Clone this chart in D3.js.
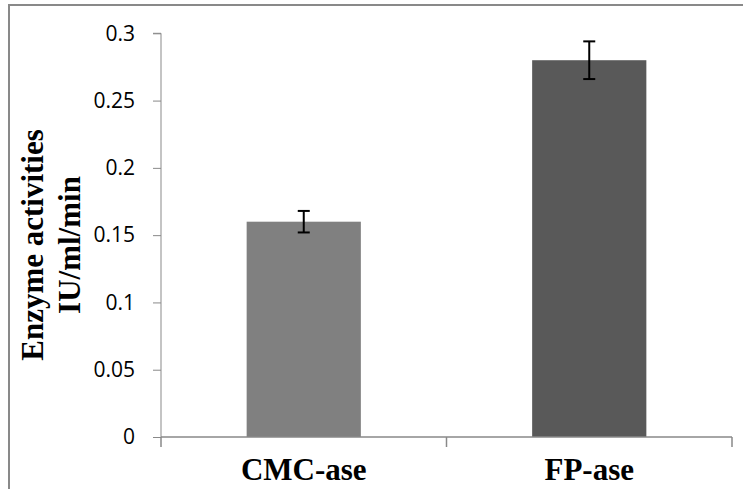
<!DOCTYPE html>
<html>
<head>
<meta charset="utf-8">
<script src="https://cdn.jsdelivr.net/npm/d3@7"></script>
<style>
html,body{margin:0;padding:0;background:#fff;}
svg{display:block;}
</style>
</head>
<body>
<svg id="chart" width="743" height="489"></svg>
<script>
const categories = ["CMC-ase", "FP-ase"];
const values = [0.16, 0.28];
const errors = [0.008, 0.014];
const barColors = ["#808080", "#595959"];
const yTicks = [0, 0.05, 0.1, 0.15, 0.2, 0.25, 0.3];
const yTickLabels = ["0", "0.05", "0.1", "0.15", "0.2", "0.25", "0.3"];
const yLabelLines = ["Enzyme activities", "IU/ml/min"];

const svg = d3.select("#chart");
const axisColor = "#898989";

// outer border
svg.append("path")
  .attr("d", "M9,489V5H743")
  .attr("fill", "none")
  .attr("stroke", axisColor)
  .attr("stroke-width", 2);

const x = d3.scaleBand().domain(categories).range([161, 732]).paddingInner(0.6).paddingOuter(0.3);
const y = d3.scaleLinear().domain([0, 0.3]).range([437, 33.3]);

// Y axis
const yAxis = d3.axisLeft(y).tickValues(yTicks)
  .tickFormat((d, i) => yTickLabels[i]).tickSize(8).tickPadding(18);
const gy = svg.append("g").attr("transform", "translate(161,0)").call(yAxis);
gy.select(".domain").attr("stroke", axisColor).attr("d", `M-8,${y(0.3)}H0V${y(0)}`);
gy.selectAll(".tick line").attr("stroke", axisColor);
gy.selectAll(".tick text").attr("fill", "#000")
  .style("font-family", "'Open Sans', sans-serif").style("font-size", "21px");

// bars
svg.append("g").selectAll("rect").data(categories).join("rect")
  .attr("x", d => x(d))
  .attr("width", x.bandwidth())
  .attr("y", (d, i) => y(values[i]))
  .attr("height", (d, i) => y(0) - y(values[i]))
  .attr("fill", (d, i) => barColors[i]);

// X axis line and boundary ticks
const step = x.step();
const r0 = x.range()[0];
const boundaries = d3.range(categories.length + 1).map(i => r0 + i * step);
svg.append("line").attr("x1", r0).attr("x2", x.range()[1])
  .attr("y1", y(0)).attr("y2", y(0)).attr("stroke", axisColor).attr("stroke-width", 1.5);
svg.append("g").selectAll("line").data(boundaries).join("line")
  .attr("x1", d => d).attr("x2", d => d)
  .attr("y1", y(0)).attr("y2", y(0) + 10)
  .attr("stroke", axisColor).attr("stroke-width", 1.5);

// x labels
svg.append("g").selectAll("text").data(categories).join("text")
  .attr("x", d => x(d) + x.bandwidth() / 2)
  .attr("y", 480)
  .attr("text-anchor", "middle")
  .style("font-family", "'Liberation Serif', 'Times New Roman', serif")
  .style("font-weight", "bold")
  .style("font-size", "31px")
  .text(d => d);

// error bars
const eb = svg.append("g").attr("stroke", "#000").attr("stroke-width", 2);
categories.forEach((c, i) => {
  const cx = x(c) + x.bandwidth() / 2;
  const top = y(values[i] + errors[i]);
  const bot = y(values[i] - errors[i]);
  eb.append("line").attr("x1", cx).attr("x2", cx).attr("y1", top).attr("y2", bot);
  eb.append("line").attr("x1", cx - 6).attr("x2", cx + 6).attr("y1", top).attr("y2", top);
  eb.append("line").attr("x1", cx - 6).attr("x2", cx + 6).attr("y1", bot).attr("y2", bot);
});

// y label
const yl = svg.append("text")
  .attr("transform", "translate(0,245) rotate(-90)")
  .attr("text-anchor", "middle")
  .style("font-family", "'Liberation Serif', 'Times New Roman', serif")
  .style("font-weight", "bold")
  .style("font-size", "31px");
yl.selectAll("tspan").data(yLabelLines).join("tspan")
  .attr("x", 0)
  .attr("y", (d, i) => i === 0 ? 43 : 80)
  .text(d => d);
</script>
</body>
</html>
